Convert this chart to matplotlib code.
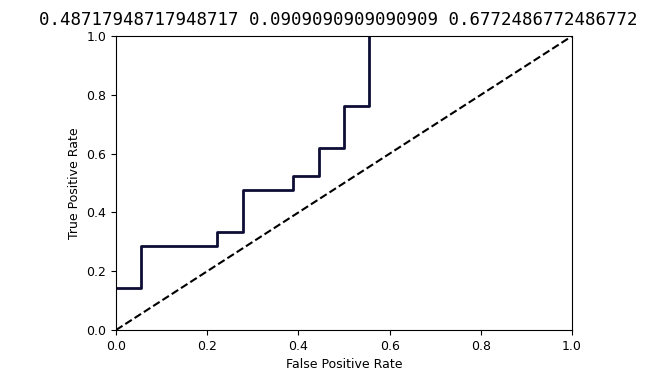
import numpy as np
from matplotlib import pyplot as plt

# ROC curve points (step curve)
fpr = [0.0, 0.0556, 0.0556, 0.2222, 0.2222, 0.2778, 0.2778, 0.3889, 0.3889,
       0.4444, 0.4444, 0.5, 0.5, 0.5556, 0.5556]
tpr = [0.1429, 0.1429, 0.2857, 0.2857, 0.3333, 0.3333, 0.4762, 0.4762, 0.5238,
       0.5238, 0.6190, 0.6190, 0.7619, 0.7619, 1.0]
scores = [0.48717948717948717, 0.0909090909090909, 0.6772486772486772]

fig = plt.figure(figsize=(6.46, 3.76), dpi=100)
ax = fig.add_axes([0.1796, 0.1223, 0.7058, 0.7817])

ax.plot(fpr, tpr, color='#0d0d35', lw=2)
ax.plot([0, 1], [0, 1], 'k--', lw=1.5)
ax.set_xlim(0, 1)
ax.set_ylim(0, 1)
ax.set_xlabel('False Positive Rate', fontsize=9)
ax.set_ylabel('True Positive Rate', fontsize=9)
ax.tick_params(labelsize=9)

fig.text(0.523, 0.948, ' '.join(str(s) for s in scores), family='DejaVu Sans Mono',
         fontsize=12.5, ha='center', va='center')

fig.savefig('out.png', dpi=100)
